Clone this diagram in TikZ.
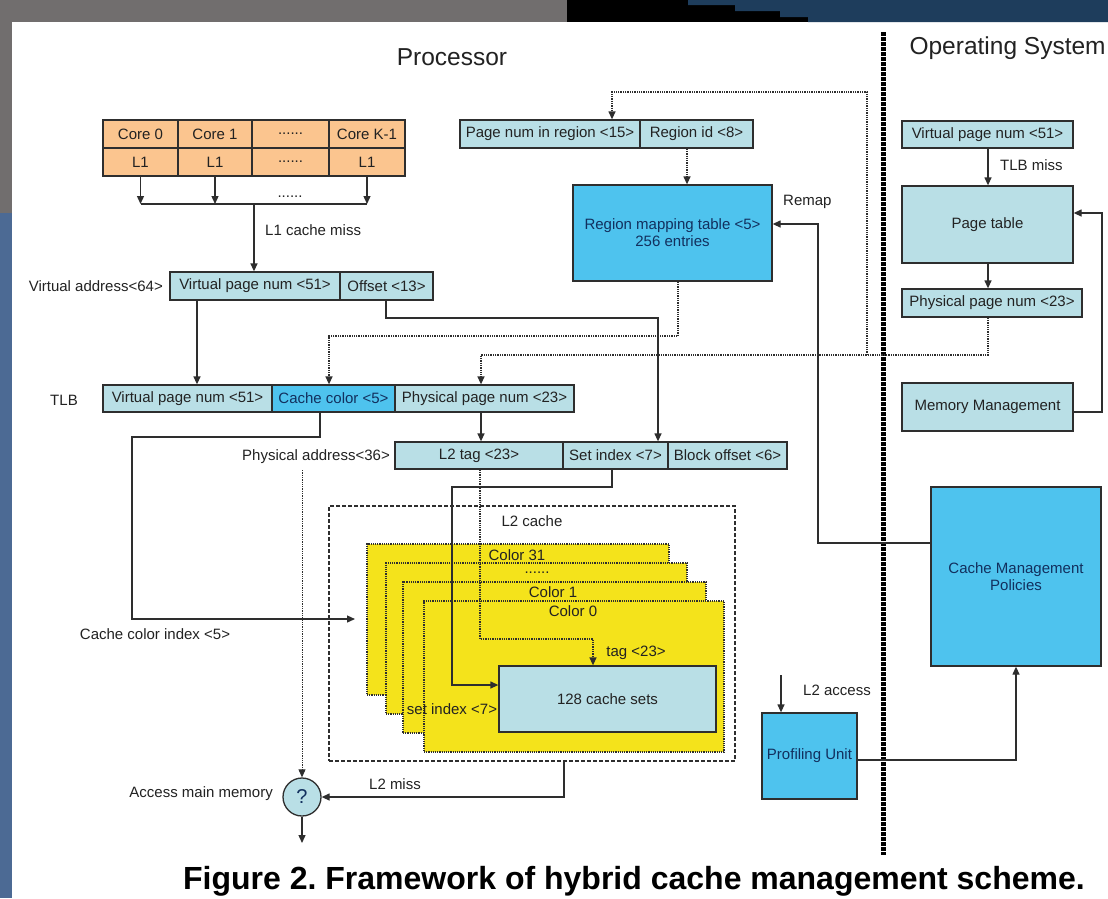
\documentclass[tikz,border=0pt]{standalone}
\usepackage{fontspec}
\setmainfont{Liberation Sans}
\usetikzlibrary{arrows.meta}
\definecolor{lightc}{HTML}{B9DFE6}
\definecolor{brightc}{HTML}{4EC3EE}
\definecolor{orangec}{HTML}{FBC58F}
\definecolor{yellowc}{HTML}{F4E31B}
\definecolor{linec}{HTML}{2E2E2E}
\definecolor{txtc}{HTML}{222222}
\definecolor{navytxt}{HTML}{12305E}
\definecolor{greyc}{HTML}{716E6E}
\definecolor{stripc}{HTML}{4C6A94}
\definecolor{topnavy}{HTML}{1E3D5C}
\newcommand{\lab}{\fontsize{15}{17}\selectfont}
\frenchspacing
\begin{document}
\begin{tikzpicture}[x=1pt,y=-1pt,
  box/.style={draw=linec, line width=1.3pt, inner sep=0pt, font=\lab, text=txtc, align=center},
  cell/.style={box, fill=lightc},
  bcell/.style={box, fill=brightc, text=navytxt},
  ocell/.style={box, fill=orangec},
  ybox/.style={draw=linec, line width=1.2pt, densely dotted, fill=yellowc, inner sep=0pt},
  lbl/.style={font=\lab, text=txtc, inner sep=0pt},
  conn/.style={draw=linec, line width=1.3pt},
  arr/.style={conn, -{Triangle[length=8pt,width=7pt]}},
  darr/.style={arr, densely dotted},
  dline/.style={conn, densely dotted},
]
% background
\useasboundingbox (0,0) rectangle (1108,898);
\clip (0,0) rectangle (1108,898);
\fill[white] (0,0) rectangle (1108,898);
\fill[greyc] (0,0) rectangle (567,22);
\fill[black] (567,0) rectangle (1108,22);
\fill[topnavy] (688,0) -- (1108,0) -- (1108,22) -- (808,22) -- (808,17) -- (780,17) -- (780,11) -- (735,11) -- (735,5) -- (688,5) -- cycle;
\fill[greyc] (0,0) rectangle (12,213);
\fill[stripc] (0,213) rectangle (12,898);

% titles
\node[font=\fontsize{24.5}{26}\selectfont, text=txtc] (proc) at (452,57) {Processor};
\node[font=\fontsize{24.5}{26}\selectfont, text=txtc, anchor=west] (os) at (906,48) {Operating System};
\node[font=\bfseries\fontsize{32}{34}\selectfont, text=black, anchor=base] (cap) at (634,889) {Figure 2. Framework of hybrid cache management scheme.};

% separator
\draw[line width=5pt, dash pattern=on 3.5pt off 1.5pt] (883,32) -- (883,855);

% cores
\node[ocell, minimum width=75pt, minimum height=28pt] (c0) at (140.5,134) {Core 0};
\node[ocell, minimum width=74pt, minimum height=28pt] (c1) at (215,134) {Core 1};
\node[ocell, minimum width=77pt, minimum height=28pt] (c2) at (290.5,134) {......};
\node[ocell, minimum width=76pt, minimum height=28pt] (c3) at (367,134) {Core K-1};
\node[ocell, minimum width=75pt, minimum height=28pt] (l0) at (140.5,162) {L1};
\node[ocell, minimum width=74pt, minimum height=28pt] (l1) at (215,162) {L1};
\node[ocell, minimum width=77pt, minimum height=28pt] (l2c) at (290.5,162) {......};
\node[ocell, minimum width=76pt, minimum height=28pt] (l3) at (367,162) {L1};
\coordinate (busl) at (140.5,204);
\coordinate (busr) at (367,204);
\draw[arr] (l0.south) -- (busl);
\draw[arr] (l1.south) -- (215,204);
\draw[arr] (l3.south) -- (busr);
\draw[conn] (busl) -- (busr);
\node[lbl] (bdots) at (290,197) {......};

% virtual address
\node[cell, minimum width=170pt, minimum height=28pt] (va1) at (255,286) {Virtual page num <51>};
\node[cell, minimum width=93pt, minimum height=28pt] (va2) at (386.5,286) {Offset <13>};
\node[lbl, anchor=east] (valab) at (163,286) {Virtual address<64>};
\draw[arr] (254,204) -- (va1.north -| 254,0);
\node[lbl, anchor=west] (l1miss) at (265,230) {L1 cache miss};

% region
\node[cell, minimum width=180pt, minimum height=28pt] (pr1) at (550,134) {Page num in region <15>};
\node[cell, minimum width=113pt, minimum height=28pt] (pr2) at (696.5,134) {Region id <8>};
\node[bcell, minimum width=199pt, minimum height=96pt] (rmt) at (672.5,233) {Region mapping table <5>\\256 entries};
\draw[darr] (pr2.south -| 687,0) -- (rmt.north -| 687,0);
\node[lbl, anchor=west] (remap) at (783,202) {Remap};

% OS side
\node[cell, minimum width=171pt, minimum height=27pt] (vpnos) at (987.5,134.5) {Virtual page num <51>};
\node[cell, minimum width=171pt, minimum height=77pt] (pt) at (987.5,224.5) {Page table};
\node[cell, minimum width=180pt, minimum height=28pt] (ppnos) at (992,303) {Physical page num <23>};
\node[cell, minimum width=171pt, minimum height=48pt] (mm) at (987.5,407) {Memory Management};
\draw[arr] (vpnos.south -| 988,0) -- (pt.north -| 988,0);
\node[lbl, anchor=west] (tlbmiss) at (1000,165) {TLB miss};
\draw[arr] (pt.south -| 988,0) -- (ppnos.north -| 988,0);
\draw[arr] (mm.east |- 0,412) -- (1102,412) -- (1102,213) -- (pt.east |- 0,213);

% TLB
\node[lbl] (tlblab) at (64,400) {TLB};
\node[cell, minimum width=169pt, minimum height=27pt] (t1) at (187.5,398.5) {Virtual page num <51>};
\node[bcell, minimum width=123pt, minimum height=27pt] (t2) at (333.5,398.5) {Cache color <5>};
\node[cell, minimum width=179pt, minimum height=27pt] (t3) at (484.5,398.5) {Physical page num <23>};
\draw[arr] (va1.south -| 197,0) -- (t1.north -| 197,0);

% physical address
\node[cell, minimum width=168pt, minimum height=27pt] (p1) at (479,455.5) {L2 tag <23>};
\node[cell, minimum width=105pt, minimum height=27pt] (p2) at (615.5,455.5) {Set index <7>};
\node[cell, minimum width=119pt, minimum height=27pt] (p3) at (727.5,455.5) {Block offset <6>};
\node[lbl, anchor=east] (palab) at (390,457) {Physical address<36>};
\draw[arr] (t3.south -| 481,0) -- (p1.north -| 481,0);
\draw[arr] (va2.south -| 386,0) -- (386,318) -- (658,318) -- (p2.north -| 658,0);

% dotted mapping paths
\draw[darr] (rmt.south -| 678,0) -- (678,336) -- (329,336) -- (t2.north -| 329,0);
\coordinate (jn) at (867,355);
\draw[darr] (ppnos.south -| 988,0) -- (988,355) -- (481,355) -- (t3.north -| 481,0);
\draw[darr] (jn) -- (867,92) -- (612,92) -- (pr1.north -| 612,0);

% L2 cache
\node[draw=linec, line width=1.3pt, dash pattern=on 4pt off 2pt, minimum width=406pt, minimum height=255pt, inner sep=0pt] (l2) at (532,633.5) {};
\node[lbl] (l2lab) at (532,521) {L2 cache};
\node[ybox, minimum width=302pt, minimum height=151pt] (y31) at (518,619.5) {};
\node[ybox, minimum width=301pt, minimum height=151pt] (ydd) at (536.5,638.5) {};
\node[ybox, minimum width=303pt, minimum height=151pt] (y1) at (554.5,657.5) {};
\node[ybox, minimum width=300pt, minimum height=151pt] (y0) at (574,676.5) {};
\node[lbl] (y31lab) at (517,555) {Color 31};
\node[lbl] (yddlab) at (537,573) {......};
\node[lbl] (y1lab) at (553,592) {Color 1};
\node[lbl] (y0lab) at (573,611) {Color 0};
\node[cell, minimum width=217pt, minimum height=66pt] (cs) at (607.5,699) {128 cache sets};
\draw[arr] (p2.south -| 612,0) -- (612,487) -- (452,487) -- (452,685) -- (cs.west |- 0,685);
\draw[darr] (p1.south -| 480,0) -- (480,639) -- (593,639) -- (cs.north -| 593,0);
\node[lbl] (taglab) at (636,653) {tag <23>};
\node[lbl] (silab) at (452,709) {set index <7>};

% cache color index
\draw[arr] (t2.south -| 320,0) -- (320,437) -- (132,437) -- (132,619) -- (355,619);
\node[lbl] (cclab) at (155,634) {Cache color index <5>};

% main memory
\node[circle, draw=linec, line width=1.3pt, fill=lightc, minimum size=38pt, inner sep=0pt, font=\fontsize{20}{20}\selectfont, text=navytxt] (q) at (302,797) {?};
\node[lbl, anchor=east] (amm) at (273,794) {Access main memory};
\coordinate (pa) at (302,470);
\draw[darr, line width=0.9pt] (pa) -- (q.north);
\coordinate (qout) at (302,843);
\draw[arr] (q.south) -- (qout);
\draw[arr] (l2.south -| 564,0) -- (564,797) -- (q.east);
\node[lbl] (l2miss) at (395,784) {L2 miss};

% policies
\node[bcell, minimum width=170pt, minimum height=179pt] (cmp) at (1016,576.5) {Cache Management\\Policies};
\node[bcell, minimum width=95pt, minimum height=86pt] (prof) at (809.5,756) {Profiling Unit};
\draw[arr] (cmp.west |- 0,543) -- (818,543) -- (818,224) -- (rmt.east |- 0,224);
\coordinate (acc) at (781,675);
\draw[arr] (acc) -- (prof.north -| 781,0);
\node[lbl] (acclab) at (837,690) {L2 access};
\draw[arr] (prof.east |- 0,760) -- (1016,760) -- (cmp.south);
\end{tikzpicture}
\end{document}
